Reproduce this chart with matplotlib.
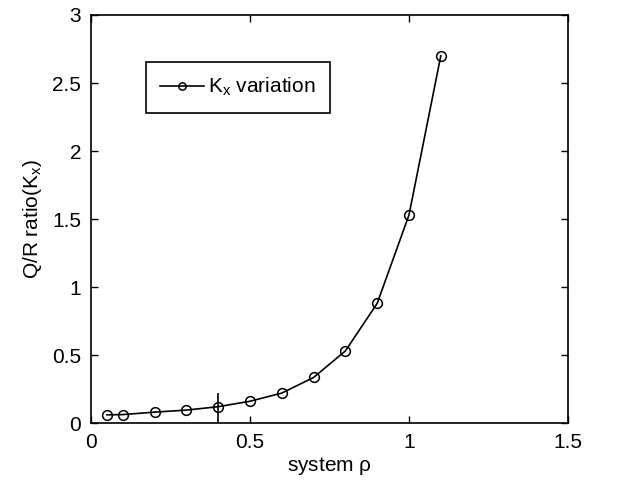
import numpy as np
import matplotlib
matplotlib.use("Agg")
import matplotlib.pyplot as plt

rho = [0.05, 0.1, 0.2, 0.3, 0.4, 0.5, 0.6, 0.7, 0.8, 0.9, 1.0, 1.1]
kx = [0.06, 0.062, 0.08, 0.095, 0.12, 0.16, 0.22, 0.335, 0.53, 0.88, 1.53, 2.7]
marker_x = 0.4
marker_top = 0.22

plt.rcParams['font.family'] = ['Liberation Sans', 'DejaVu Sans']
plt.rcParams['font.size'] = 15
plt.rcParams['mathtext.fontset'] = 'custom'
plt.rcParams['mathtext.rm'] = 'Liberation Sans'
plt.rcParams['mathtext.it'] = 'Liberation Sans'

fig = plt.figure(figsize=(6.29, 4.87), dpi=100)
ax = fig.add_axes([0.1447, 0.1314, 0.7583, 0.8378])

ax.plot(rho, kx, color='black', lw=1.2, marker='o', ms=7, mfc='none', mew=1.1,
        label=r'K$_{\mathrm{x}}$ variation')
ax.vlines(marker_x, 0, marker_top, color='black', lw=1.2)

ax.set_xlim(0, 1.5)
ax.set_ylim(0, 3)
ax.set_xticks([0, 0.5, 1, 1.5])
ax.set_xticklabels(['0', '0.5', '1', '1.5'])
ax.set_yticks([0, 0.5, 1, 1.5, 2, 2.5, 3])
ax.set_yticklabels(['0', '0.5', '1', '1.5', '2', '2.5', '3'])
ax.tick_params(direction='in', top=True, right=True, length=5, width=1, pad=7)
for s in ax.spines.values():
    s.set_linewidth(1.2)

ax.set_xlabel(r'system $\mathrm{\rho}$', labelpad=2)
ax.set_ylabel(r'Q/R ratio(K$_{\mathrm{x}}$)', labelpad=6)

leg = ax.legend(loc='upper left', bbox_to_anchor=(0.115, 0.886), fancybox=False,
                edgecolor='black', framealpha=1, handlelength=2.1, borderpad=0.7,
                handletextpad=0.2, markerscale=0.75, borderaxespad=0)
leg.get_frame().set_linewidth(1.2)

fig.savefig("out.png", dpi=100)
